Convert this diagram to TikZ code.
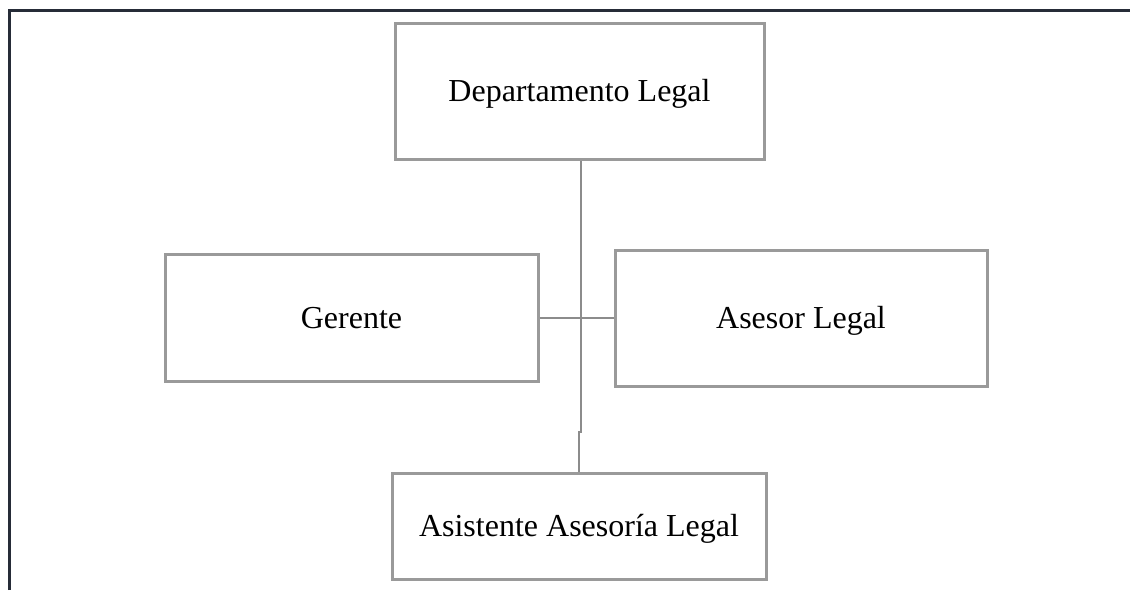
\documentclass[tikz,border=0pt]{standalone}
\usepackage{fontspec}
\setmainfont{Liberation Serif}
\usepackage{xcolor}
\usepackage{tikz}
\usetikzlibrary{positioning,calc}
\definecolor{framedark}{HTML}{262C38}
\definecolor{boxgray}{HTML}{9A9A9A}
\definecolor{linkgray}{HTML}{8C8C8C}

\begin{document}
\begin{tikzpicture}[
    x=1pt, y=-1pt,
    frame/.style={draw=framedark, line width=3pt},
    unit/.style={draw=boxgray, line width=3pt, rectangle, inner sep=0pt,
        align=center, text height=20pt, text depth=0pt,
        font=\fontsize{32}{38}\selectfont},
    link/.style={draw=linkgray, line width=2.8pt}]
\useasboundingbox (0,0) rectangle (1130,590);

% outer frame
\draw[frame] (9,590) -- (9,10) -- (1130,10);

% boxes
\node[unit, minimum width=369pt, minimum height=136pt] (dep) at (579.5,91) {Departamento Legal};
\node[unit, minimum width=373pt, minimum height=127pt] (ger) at (351.5,318) {Gerente};
\node[unit, minimum width=372pt, minimum height=136pt] (ase) at (801,318) {Asesor Legal};
\node[unit, minimum width=374pt, minimum height=106pt] (asi) at (579,526) {Asistente Asesoría Legal};

% connectors
\coordinate (kink) at (581,432);
\draw[link] (dep.south -| kink) -- (kink) -- (kink -| asi.north) -- (asi.north);
\draw[link] (ger.east) -- (ase.west);

\end{tikzpicture}
\end{document}
